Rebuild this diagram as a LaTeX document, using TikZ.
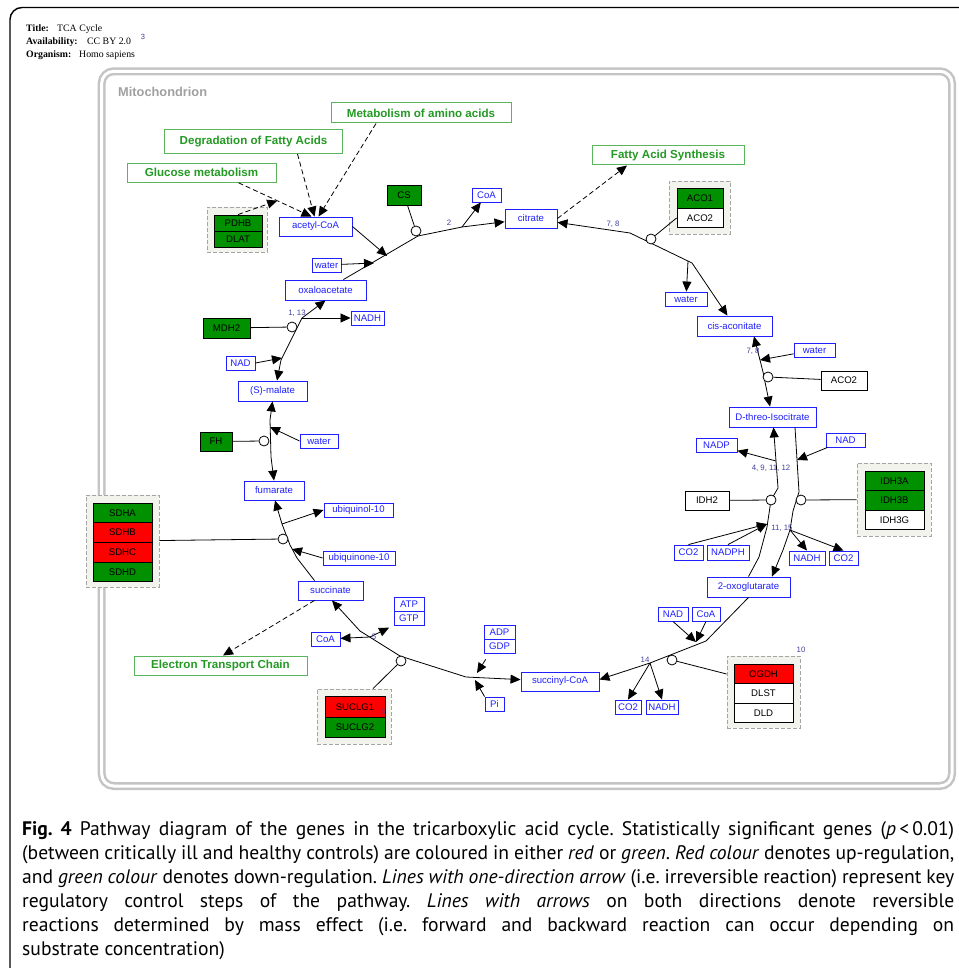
\documentclass[tikz,border=0pt]{standalone}
\usepackage{fontspec}
\setsansfont{Liberation Sans}
\newfontfamily\titlefont{Liberation Serif}
\newfontfamily\capfont{PT Sans}
\usetikzlibrary{arrows.meta,calc}

\definecolor{metblue}{HTML}{2020FF}
\definecolor{genegreen}{HTML}{009000}
\definecolor{genered}{HTML}{FF0000}
\definecolor{pwgreen}{HTML}{249A24}
\definecolor{pwedge}{HTML}{5AB55A}
\definecolor{grpfill}{HTML}{F3F3EE}
\definecolor{grpedge}{HTML}{A5A5A5}
\definecolor{mitogray}{HTML}{C4C4C4}
\definecolor{mitotext}{HTML}{A0A0A0}
\definecolor{numblue}{HTML}{4040A0}

\begin{document}
\begin{tikzpicture}[x=1pt, y=-1pt, >={Triangle[length=10pt,width=9pt]},
  sz/.style 2 args={minimum width=#1pt, minimum height=#2pt},
  met/.style={draw=metblue, fill=white, text=metblue, line width=0.9pt, inner sep=0pt,
    font=\sffamily\fontsize{9.6}{10}\selectfont},
  gene/.style={draw=black, text=black, line width=0.9pt, inner sep=0pt,
    font=\sffamily\fontsize{9.6}{10}\selectfont},
  grp/.style={draw=grpedge, fill=grpfill, dash pattern=on 4pt off 2pt, line width=0.8pt, inner sep=0pt},
  pw/.style={draw=pwedge, fill=white, text=pwgreen, line width=1pt, inner sep=0pt,
    font=\sffamily\bfseries\fontsize{11.6}{12}\selectfont},
  cat/.style={circle, draw, fill=white, line width=0.8pt, inner sep=0pt, minimum size=10pt},
  rxn/.style={line width=0.8pt},
  dsh/.style={line width=0.8pt, dash pattern=on 5pt off 3pt},
  num/.style={text=numblue, inner sep=0pt, font=\sffamily\fontsize{7.8}{8}\selectfont},
  hdr/.style={anchor=base west, inner sep=0pt, font=\titlefont\fontsize{9.8}{11}\selectfont},
  captext/.style={anchor=base west, inner sep=0pt, font=\capfont\fontsize{19.6}{24}\selectfont\frenchspacing}]
  \useasboundingbox (0,0) rectangle (958,968);

  \draw[line width=1.4pt, rounded corners=12pt] (10,990) -- (10,7.5) -- (990,7.5);
  \draw[mitogray, line width=2.5pt, double=white, double distance=3pt, rounded corners=12pt]
    (101.7,71.3) rectangle (952,786);
  \node[anchor=base west, inner sep=0pt, text=mitotext, font=\sffamily\bfseries\fontsize{12.8}{13}\selectfont]
    (mito) at (118,97) {Mitochondrion};

  \node[hdr] (ttl1) at (26,32) {\textbf{Title:}};
  \node[hdr] (ttl1v) at (57,32) {TCA Cycle};
  \node[hdr] (ttl2) at (26,45) {\textbf{Availability:}};
  \node[hdr] (ttl2v) at (87,45) {CC BY 2.0};
  \node[num, font=\sffamily\fontsize{7.5}{8}\selectfont] (ref3) at (143,37) {3};
  \node[hdr] (ttl3) at (26,58) {\textbf{Organism:}};
  \node[hdr] (ttl3v) at (79,58) {Homo sapiens};

  \node[pw, sz={178}{24}] (fad) at (253.5,141.5) {Degradation of Fatty Acids};
  \node[pw, sz={149}{19}] (glc) at (201.5,172.8) {Glucose metabolism};
  \node[pw, sz={180}{20}] (amino) at (421,113) {Metabolism of amino acids};
  \node[pw, sz={152}{19}] (fas) at (668,155.5) {Fatty Acid Synthesis};
  \node[pw, sz={173}{19}] (etc) at (220.5,665.5) {Electron Transport Chain};

  \node[grp, sz={60}{45}] (pdhgrp) at (237,229.5) {};
  \node[gene, fill=genegreen, sz={48}{16}] (pdhb) at (238,223) {PDHB};
  \node[gene, fill=genegreen, sz={48}{16}] (dlat) at (238,239) {DLAT};
  \node[grp, sz={61}{53}] (acogrp) at (699.5,207.5) {};
  \node[gene, fill=genegreen, sz={46}{19.5}] (aco1) at (700,198.5) {ACO1};
  \node[gene, fill=white, sz={46}{19.5}] (acoa2) at (700,218) {ACO2};
  \node[grp, sz={74}{73}] (idhgrp) at (894,499.5) {};
  \node[gene, fill=genegreen, sz={59}{19.5}] (idh3a) at (894.5,481) {IDH3A};
  \node[gene, fill=genegreen, sz={59}{19.5}] (idh3b) at (894.5,500.5) {IDH3B};
  \node[gene, fill=white, sz={59}{19.5}] (idh3g) at (894.5,520) {IDH3G};
  \node[grp, sz={73}{72}] (ogdhgrp) at (763.5,692) {};
  \node[gene, fill=genered, sz={59}{19.5}] (ogdh) at (763.5,674) {OGDH};
  \node[gene, fill=white, sz={59}{19.5}] (dlst) at (763.5,693.5) {DLST};
  \node[gene, fill=white, sz={59}{19.5}] (dld) at (763.5,713) {DLD};
  \node[grp, sz={74}{55}] (sucgrp) at (354,716.5) {};
  \node[gene, fill=genered, sz={60}{20.5}] (suclg1) at (355,707) {SUCLG1};
  \node[gene, fill=genegreen, sz={60}{20.5}] (suclg2) at (355,727.5) {SUCLG2};
  \node[grp, sz={73}{92}] (sdhgrp) at (122.5,541) {};
  \node[gene, fill=genegreen, sz={59}{19.6}] (sdha) at (122.5,513) {SDHA};
  \node[gene, fill=genered, sz={59}{19.6}] (sdhb) at (122.5,532.6) {SDHB};
  \node[gene, fill=genered, sz={59}{19.6}] (sdhc) at (122.5,552.2) {SDHC};
  \node[gene, fill=genegreen, sz={59}{19.6}] (sdhd) at (122.5,571.8) {SDHD};

  \node[gene, fill=genegreen, sz={34}{20}] (cs) at (404,195) {CS};
  \node[gene, fill=white, sz={46}{19}] (aco2b) at (844,380.5) {ACO2};
  \node[gene, fill=white, sz={44}{19}] (idh2) at (707,500.5) {IDH2};
  \node[gene, fill=genegreen, sz={32}{19}] (fh) at (216,441.5) {FH};
  \node[gene, fill=genegreen, sz={47}{20}] (mdh2) at (226.5,328) {MDH2};

  \node[met, sz={73}{19}] (acoa) at (315.5,226.5) {acetyl-CoA};
  \node[met, sz={29}{14}] (water1) at (326.5,265) {water};
  \node[met, sz={81}{20}] (oaa) at (325.5,290) {oxaloacetate};
  \node[met, sz={29}{14}] (coa1) at (486.5,195) {CoA};
  \node[met, sz={52}{19}] (cit) at (531,218.5) {citrate};
  \node[met, sz={42}{14}] (water2) at (686,299) {water};
  \node[met, sz={75}{20}] (cisac) at (734.5,326) {cis-aconitate};
  \node[met, sz={41}{14}] (water3) at (814.5,350) {water};
  \node[met, sz={87}{20}] (iso) at (772.5,417) {D-threo-Isocitrate};
  \node[met, sz={41}{14}] (nadp) at (716.5,445) {NADP};
  \node[met, sz={39}{14}] (nad1) at (845.5,440) {NAD};
  \node[met, sz={29}{15}] (co2a) at (688.5,552.5) {CO2};
  \node[met, sz={42}{15}] (nadph) at (728,552.5) {NADPH};
  \node[met, sz={36}{14}] (nadh1) at (807,558) {NADH};
  \node[met, sz={29}{14}] (co2b) at (843.5,558) {CO2};
  \node[met, sz={83}{20}] (oxog) at (748.5,587) {2-oxoglutarate};
  \node[met, sz={30}{14}] (nad2) at (673,614) {NAD};
  \node[met, sz={28}{14}] (coa2) at (706,614) {CoA};
  \node[met, sz={78}{19}] (succoa) at (560,681.5) {succinyl-CoA};
  \node[met, sz={26}{14}] (co2c) at (628,707) {CO2};
  \node[met, sz={32}{14}] (nadh2) at (662,707) {NADH};
  \node[met, sz={31}{14}] (adp) at (499.5,632) {ADP};
  \node[met, sz={31}{14}] (gdp) at (499.5,646) {GDP};
  \node[met, sz={19}{14}] (phos) at (494.5,704) {Pi};
  \node[met, sz={30}{14}] (atp) at (409,604) {ATP};
  \node[met, sz={30}{14}] (gtp) at (409,618) {GTP};
  \node[met, sz={29}{14}] (coa3) at (325.5,639) {CoA};
  \node[met, sz={65}{19}] (succ) at (330.5,590.5) {succinate};
  \node[met, sz={69}{14}] (ubiqol) at (358.5,510) {ubiquinol-10};
  \node[met, sz={72}{14}] (ubiqon) at (359,558) {ubiquinone-10};
  \node[met, sz={60}{19}] (fum) at (274,490.5) {fumarate};
  \node[met, sz={38}{14}] (water4) at (319,441) {water};
  \node[met, sz={69}{20}] (mal) at (272.5,391) {(S)-malate};
  \node[met, sz={29}{14}] (nad3) at (240.5,363) {NAD};
  \node[met, sz={33}{14}] (nadh3) at (367.5,318) {NADH};

  \coordinate (cs1) at (418,236);
  \coordinate (cs2) at (462,227);
  \coordinate (csa) at (387,256);
  \coordinate (csw) at (374,263);
  \draw[rxn,->] (oaa) -- (cs1) -- (cs2) -- (cit);
  \draw[rxn,->] (acoa.east) -- (csa);
  \draw[rxn,->] (water1) -- (csw);
  \draw[rxn,->] (cs2) -- (coa1);

  \draw[dsh,->] ($(glc.south)+(37,0)$) -- coordinate[pos=0.53] (pdhtip) ($(acoa.north)+(-4,0)$);
  \draw[dsh,->] ($(fad.south)+(44,0)$) -- ($(acoa.north)+(-1,0)$);
  \draw[dsh,->] ($(amino.south)+(-45,0)$) -- ($(acoa.north)+(3,0)$);
  \draw[dsh,->] (pdhb.north) -- (pdhtip);
  \draw[dsh,->] (cit.east) -- ($(fas.south)+(-41,0)$);
  \draw[dsh,->] ($(succ.south)+(-16,0)$) -- ($(etc.north)+(2.5,0)$);

  \coordinate (ac1) at (630,233);
  \coordinate (ac2) at (692,263);
  \coordinate (acw) at (688,261);
  \draw[rxn,<->] (cit) -- (ac1) -- (ac2) -- (cisac);
  \draw[rxn,->] (acw) -- (water2);

  \coordinate (ad1) at (763,372);
  \coordinate (adw) at (760,360);
  \draw[rxn,<->] ($(cisac.south)+(19.5,0)$) -- (ad1) -- ($(iso.north)+(-2.5,0)$);
  \draw[rxn,->] (water3) -- (adw);

  \coordinate (il1) at (759,557);
  \coordinate (il2) at (767,527);
  \coordinate (il3) at (771,500);
  \coordinate (il4) at (778,488);
  \coordinate (ilp) at (776,461);
  \coordinate (ilc) at (767,524);
  \draw[rxn,->] (oxog.north) -- (il1) -- (il2) -- (il3) -- (il4) -- ($(iso.south)+(1,0)$);
  \draw[rxn,->] (ilp) -- (nadp);
  \draw[rxn,->] (co2a.north) -- (ilc);
  \draw[rxn,->] (nadph.north) -- (ilc);

  \coordinate (ir1) at (799,492);
  \coordinate (ir2) at (793,511);
  \coordinate (ir3) at (790,530);
  \coordinate (ir4) at (783,550);
  \coordinate (irn) at (797,460);
  \draw[rxn,->] ($(iso.south)+(22.5,0)$) -- (ir1) -- (ir2) -- (ir3) -- (ir4) -- ($(oxog.north)+(23.5,0)$);
  \draw[rxn,->] (nad1) -- (irn);
  \draw[rxn,->] (ir3) -- (nadh1.north);
  \draw[rxn,->] (ir3) -- (co2b.north);

  \coordinate (og1) at (706,641);
  \coordinate (og2) at (650,663);
  \coordinate (ogn) at (696,642);
  \draw[rxn,->] (oxog.south) -- (og1) -- (og2) -- ($(succoa.east)+(0,-2)$);
  \draw[rxn,->] (nad2.south) -- (ogn);
  \draw[rxn,->] (coa2.south) -- (ogn);
  \draw[rxn,->] (og2) -- (co2c.north);
  \draw[rxn,->] (og2) -- (nadh2.north);

  \coordinate (sc1) at (466,677);
  \coordinate (sc2) at (400,656);
  \coordinate (sc3) at (360,631);
  \coordinate (scb) at (370,637);
  \coordinate (scp) at (475,680);
  \coordinate (sca) at (477,673);
  \draw[rxn,<->] (succoa) -- (sc1) -- (sc2) -- (sc3) -- ($(succ.south)+(1.5,0)$);
  \draw[rxn,->,shorten <=7pt] ($(gdp.south)+(-10,0)$) -- (sca);
  \draw[rxn,->] (phos.north west) -- (scp);
  \draw[rxn,->] (scb) -- (coa3);
  \draw[rxn,->,shorten >=5pt] (scb) -- (gtp.south west);

  \coordinate (sd1) at (297,558);
  \coordinate (sd2) at (290,545);
  \coordinate (sd3) at (282,524);
  \coordinate (sdu) at (292,549);
  \draw[rxn,->] ($(succ.north)+(-16,0)$) -- (sd1) -- (sd2) -- (sd3) -- ($(fum.south)+(1,0)$);
  \draw[rxn,->] (sd3) -- (ubiqol.west);
  \draw[rxn,->] (ubiqon.west) -- (sdu);

  \coordinate (fh1) at (271,457);
  \coordinate (fh2) at (270,420);
  \coordinate (fhw) at (270,427);
  \draw[rxn,<->] (fum.north) -- (fh1) -- (fh2) -- (mal.south);
  \draw[rxn,->] (water4.west) -- (fhw);

  \coordinate (md1) at (281,360);
  \coordinate (md2) at (302,318);
  \coordinate (mdn) at (282,358);
  \draw[rxn,<->] ($(mal.north)+(4.5,0)$) -- (md1) -- (md2) -- (oaa.south);
  \draw[rxn,->] (nad3.east) -- (mdn);
  \draw[rxn,->] (md2) -- (nadh3.west);

  \node[cat] (ccs) at (416,231) {};
  \node[cat] (caco) at (651,239) {};
  \node[cat] (caco2) at (768,377) {};
  \node[cat] (cidh2) at (771,500) {};
  \node[cat] (cidh3) at (801,500) {};
  \node[cat] (cogdh) at (672,660) {};
  \node[cat] (csuc) at (401,661) {};
  \node[cat] (csdh) at (283,539) {};
  \node[cat] (cfh) at (264,441) {};
  \node[cat] (cmdh) at (292,327) {};

  \draw[rxn] (cs) -- (ccs);
  \draw[rxn] (caco) -- (acoa2.west);
  \draw[rxn] (caco2) -- (aco2b);
  \draw[rxn] (idh2) -- (cidh2);
  \draw[rxn] (cidh3) -- (idhgrp);
  \draw[rxn] (cogdh) -- ($(ogdhgrp.west)+(0,-18)$);
  \draw[rxn] (csuc) -- ($(sucgrp.north)+(19,0)$);
  \draw[rxn] (sdhgrp) -- (csdh);
  \draw[rxn] (fh) -- (cfh);
  \draw[rxn] (mdh2) -- (cmdh);

  \node[num] (n2) at (449,223) {2};
  \node[num] (n78a) at (613,224) {7, 8};
  \node[num] (n78b) at (753,351) {7, 8};
  \node[num] (n4912) at (771,468) {4, 9, 11, 12};
  \node[num] (n1115) at (782,528) {11, 15};
  \node[num] (n14) at (645,660) {14};
  \node[num] (n10) at (801,650) {10};
  \node[num] (n5) at (374,637) {5};
  \node[num] (n6) at (383,712) {6};
  \node[num] (n113) at (297,313) {1, 13};

  \node[captext] (cap1) at (22,835) {\hbox to 932pt{\textbf{Fig. 4} Pathway diagram of the genes in the tricarboxylic acid cycle. Statistically significant genes (\textit{p}\,<\,0.01)}};
  \node[captext] (cap2) at (22,859) {\hbox to 932pt{(between critically ill and healthy controls) are coloured in either \textit{red} or \textit{green}. \textit{Red colour} denotes up-regulation,}};
  \node[captext] (cap3) at (22,883) {\hbox to 932pt{and \textit{green colour} denotes down-regulation. \textit{Lines with one-direction arrow} (i.e. irreversible reaction) represent key}};
  \node[captext] (cap4) at (22,907) {\hbox to 932pt{regulatory control steps of the pathway. \textit{Lines with arrows} on both directions denote reversible}};
  \node[captext] (cap5) at (22,931) {\hbox to 932pt{reactions determined by mass effect (i.e. forward and backward reaction can occur depending on}};
  \node[captext] (cap6) at (22,955) {substrate concentration)};
\end{tikzpicture}
\end{document}
